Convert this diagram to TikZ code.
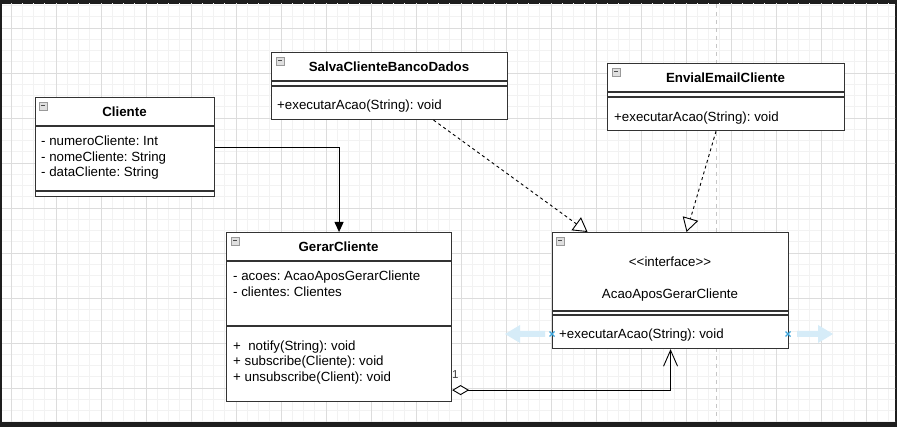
\documentclass[tikz,border=0pt]{standalone}
\usepackage{fontspec}
\setmainfont{Liberation Sans}
\usetikzlibrary{arrows.meta,calc}
\frenchspacing
\definecolor{frame}{HTML}{1E1E1E}
\definecolor{gridminor}{HTML}{F2F2F2}
\definecolor{gridmajor}{HTML}{DCDCDC}
\definecolor{selblue}{HTML}{D6ECF8}
\definecolor{xblue}{HTML}{3FA6DC}
\definecolor{boxline}{HTML}{333333}
\tikzset{
  umlbox/.style={draw=boxline, line width=1.1pt, fill=white, rectangle, inner sep=0pt, anchor=north west},
  sepline/.style={draw=boxline, line width=1.1pt},
  lbl/.style={anchor=base west, inner sep=0pt, font=\fontsize{13.3}{15}\selectfont},
  ctr/.style={anchor=base, inner sep=0pt, font=\fontsize{13.3}{15}\selectfont},
  ttl/.style={anchor=base, inner sep=0pt, font=\bfseries\fontsize{13.3}{15}\selectfont},
  conn/.style={draw=black, line width=0.9pt},
  dconn/.style={draw=black, line width=0.9pt, dash pattern=on 3pt off 3pt},
  iconbox/.style={draw=gray!80, fill=gray!25, line width=0.6pt},
}
\newcommand\umlicon[2]{%
  \draw[iconbox] (#1,#2) rectangle ++(8,8);
  \draw[black!70, line width=1pt] (#1+2,#2+4) -- (#1+6,#2+4);
}
\begin{document}
\begin{tikzpicture}[x=1pt,y=-1pt]
\useasboundingbox (0,0) rectangle (897,427);
% frame and background
\fill[frame] (0,0) rectangle (897,427);
\fill[white] (2,4) rectangle (895,422);
\begin{scope}
\clip (2,4) rectangle (895,422);
\foreach \i in {0,...,80} {\draw[gridminor, line width=0.8pt] ({-0.25+11.25*\i},0) -- ++(0,427);}
\foreach \j in {0,...,39} {\draw[gridminor, line width=0.8pt] (0,{-5.75+11.25*\j}) -- ++(897,0);}
\foreach \i in {0,...,19} {\draw[gridmajor, line width=0.8pt] ({11+45*\i},0) -- ++(0,427);}
\foreach \j in {-1,...,9} {\draw[gridmajor, line width=0.8pt] (0,{28+45*\j}) -- ++(897,0);}
\draw[gray!45, line width=0.8pt, dash pattern=on 4pt off 4pt] (716,4) -- (716,422);
\end{scope}

% ---------- Cliente
\node[umlbox, minimum width=179pt, minimum height=99pt] (cli) at (35,97) {};
\draw[sepline] (cli.west |- 0,126) -- (cli.east |- 0,126);
\draw[sepline] (cli.west |- 0,191) -- (cli.east |- 0,191);
\umlicon{39}{102}
\node[ttl] (cliT) at (124.5,117) {Cliente};
\node[lbl] (cliA1) at (41,146) {- numeroCliente: Int};
\node[lbl] (cliA2) at (41,161.5) {- nomeCliente: String};
\node[lbl] (cliA3) at (41,177) {- dataCliente: String};

% ---------- SalvaClienteBancoDados
\node[umlbox, minimum width=236pt, minimum height=67pt] (salva) at (271,52) {};
\draw[sepline] (salva.west |- 0,81) -- (salva.east |- 0,81);
\draw[sepline] (salva.west |- 0,86) -- (salva.east |- 0,86);
\umlicon{276}{57}
\node[ttl] (salvaT) at (389,71.5) {SalvaClienteBancoDados};
\node[lbl] (salvaM) at (277,110) {+executarAcao(String): void};

% ---------- EnvialEmailCliente
\node[umlbox, minimum width=237pt, minimum height=67pt] (env) at (607,63) {};
\draw[sepline] (env.west |- 0,92) -- (env.east |- 0,92);
\draw[sepline] (env.west |- 0,97) -- (env.east |- 0,97);
\umlicon{612}{68}
\node[ttl] (envT) at (725.5,82.5) {EnvialEmailCliente};
\node[lbl] (envM) at (614,122) {+executarAcao(String): void};

% ---------- GerarCliente
\node[umlbox, minimum width=225pt, minimum height=169pt] (ger) at (226,232) {};
\draw[sepline] (ger.west |- 0,261) -- (ger.east |- 0,261);
\draw[sepline] (ger.west |- 0,326) -- (ger.east |- 0,326);
\umlicon{231}{237}
\node[ttl] (gerT) at (338.5,251.5) {GerarCliente};
\node[lbl] (gerA1) at (233,281) {- acoes: AcaoAposGerarCliente};
\node[lbl] (gerA2) at (233,297) {- clientes: Clientes};
\node[lbl] (gerM1) at (233,351) {+\ \ notify(String): void};
\node[lbl] (gerM2) at (233,366) {+ subscribe(Cliente): void};
\node[lbl] (gerM3) at (233,382) {+ unsubscribe(Client): void};

% ---------- interface AcaoAposGerarCliente
\node[umlbox, minimum width=236pt, minimum height=116pt] (iface) at (552,232) {};
\draw[sepline] (iface.west |- 0,311) -- (iface.east |- 0,311);
\draw[sepline] (iface.west |- 0,315) -- (iface.east |- 0,315);
\umlicon{556}{237}
\node[ctr] (ifaceS) at (670,266.5) {<\kern0pt<interface>\kern0pt>};
\node[ctr] (ifaceT) at (670,299) {AcaoAposGerarCliente};
\node[lbl] (ifaceM) at (559,339) {+executarAcao(String): void};

% selection handles (light blue arrows and crosses)
\fill[selblue] (545,331) -- (520,331) -- (520,325) -- (505,334) -- (520,343) -- (520,337) -- (545,337) -- cycle;
\fill[selblue] (797,331) -- (818,331) -- (818,325) -- (833,334) -- (818,343) -- (818,337) -- (797,337) -- cycle;
\draw[xblue, line width=1.1pt] (549.5,331.5) -- (554.5,336.5) (549.5,336.5) -- (554.5,331.5);
\draw[xblue, line width=1.1pt] (785.5,331.5) -- (790.5,336.5) (785.5,336.5) -- (790.5,331.5);

% ---------- connectors
\draw[conn, -{Triangle[length=10pt,width=9pt]}] (cli.east) -| (ger.north);
\draw[dconn, -{Triangle[open,length=14pt,width=16pt,fill=white]}]
  ([xshift=44pt]salva.south) -- ([xshift=-83pt]iface.north);
\draw[dconn, -{Triangle[open,length=14pt,width=16pt,fill=white]}]
  ([xshift=-10pt]env.south) -- ([xshift=16pt]iface.north);
\draw[conn, {Diamond[open,length=17pt,width=10pt,fill=white]}-{Straight Barb[length=16pt,width=14pt]}]
  ([yshift=12pt]ger.south east) -| (iface.south);
\node[anchor=base west, inner sep=0pt, font=\fontsize{11.5}{13}\selectfont, text=black!75] (mult) at (452,379) {1};
\end{tikzpicture}
\end{document}
